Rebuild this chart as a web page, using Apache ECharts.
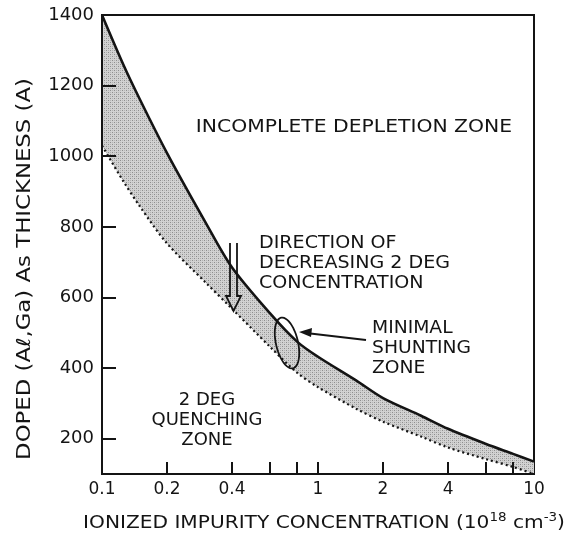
<!DOCTYPE html>
<html><head><meta charset="utf-8">
<script src="https://cdn.jsdelivr.net/npm/echarts@6/dist/echarts.min.js"></script>
<style>html,body{margin:0;padding:0;background:#fff}#c{width:569px;height:533px}</style>
</head><body><div id="c"></div>
<script>
// ---- data ----
const xValues        = [0.1, 0.125, 0.15, 0.2, 0.3, 0.4, 0.6, 0.8, 1, 1.5, 2, 3, 4, 6, 8, 10];
const upperThickness = [1400, 1262, 1160, 1009, 815, 685, 555, 475, 432, 365, 315, 265, 228, 185, 157, 135];
const lowerThickness = [1030, 931, 857, 753, 644, 568, 460, 387, 346, 285, 248, 206, 175, 142, 120, 100];
const xTickValues    = [0.2, 0.4, 0.6, 0.8, 1, 2, 4, 6, 8];
const xLabelValues   = [0.1, 0.2, 0.4, 1, 2, 4, 10];
const yTickValues    = [200, 400, 600, 800, 1000, 1200, 1400];

const FONT = 'DejaVu Sans';
const INK = '#141414';

// stipple pattern for the band
const pc = document.createElement('canvas'); pc.width = 4; pc.height = 4;
const g = pc.getContext('2d');
g.fillStyle = '#d2d2d2'; g.fillRect(0, 0, 4, 4);
g.fillStyle = '#8e8e8e'; g.fillRect(0, 0, 1, 1); g.fillRect(2, 2, 1, 1);
g.fillStyle = '#b4b4b4'; g.fillRect(2, 0, 1, 1); g.fillRect(0, 2, 1, 1);

const upperData = xValues.map((x, i) => [x, upperThickness[i]]);
const lowerData = xValues.map((x, i) => [x, lowerThickness[i]]);

function ellipsePts(cx, cy, rx, ry, rot, n) {
  const pts = [];
  for (let k = 0; k < n; k++) {
    const t = 2 * Math.PI * k / n;
    const ex = rx * Math.cos(t), ey = ry * Math.sin(t);
    pts.push([cx + ex * Math.cos(rot) - ey * Math.sin(rot), cy + ex * Math.sin(rot) + ey * Math.cos(rot)]);
  }
  return pts;
}

const txt = (s, x, y, align, sx) => ({
  type: 'text', x: x, y: y, z: 100, scaleX: sx || 1,
  style: { text: s, fontFamily: FONT, fontSize: 18, fill: INK, align: align || 'left', verticalAlign: 'middle' }
});

const chart = echarts.init(document.getElementById('c'), null, { renderer: 'canvas' });
chart.setOption({
  animation: false,
  backgroundColor: '#fff',
  grid: { left: 102, top: 15, right: 35, bottom: 59, show: true, borderColor: INK, borderWidth: 2, backgroundColor: 'transparent', outerBoundsMode: 'none' },
  xAxis: {
    type: 'log', logBase: 10, min: 0.1, max: 10, z: 10,
    axisLine: { show: true, lineStyle: { color: INK, width: 2 } },
    axisTick: { show: true, inside: true, length: 12, customValues: xTickValues, lineStyle: { color: INK, width: 2 } },
    axisLabel: { customValues: xLabelValues, formatter: v => String(+(+v).toPrecision(3)), fontFamily: FONT, fontSize: 17, color: INK, margin: 7 },
    splitLine: { show: false }, minorTick: { show: false }
  },
  yAxis: {
    type: 'value', min: 100, max: 1400, z: 10,
    axisLine: { show: true, lineStyle: { color: INK, width: 2 } },
    axisTick: { show: true, inside: true, length: 14, customValues: yTickValues, lineStyle: { color: INK, width: 2 } },
    axisLabel: { customValues: yTickValues, formatter: v => String(v), fontFamily: FONT, fontSize: 18, color: INK, margin: 8 },
    splitLine: { show: false }
  },
  series: [
    { type: 'line', name: 'upper', data: upperData, smooth: 0.3, symbol: 'none', z: 2,
      lineStyle: { color: INK, width: 2.6 },
      areaStyle: { color: { image: pc, repeat: 'repeat' }, opacity: 1, origin: 'start' } },
    { type: 'line', name: 'lower', data: lowerData, smooth: 0.3, symbol: 'none', z: 3,
      lineStyle: { color: INK, width: 2.2, type: [2, 3] },
      areaStyle: { color: '#ffffff', opacity: 1, origin: 'start' } }
  ],
  graphic: { elements: [
    { type: 'text', x: 25, y: 269, rotation: Math.PI / 2, scaleX: 1.2, z: 100,
      style: { text: 'DOPED (Aℓ,Ga) As THICKNESS (A)', fontFamily: FONT, fontSize: 19, fill: INK, align: 'center', verticalAlign: 'middle' } },
    { type: 'text', x: 324, y: 523, scaleX: 1.12, z: 100,
      style: { text: 'IONIZED IMPURITY CONCENTRATION (10{s|18} cm{s|-3})', fontFamily: FONT, fontSize: 18, fill: INK, align: 'center', verticalAlign: 'middle', lineHeight: 22,
        rich: { s: { fontFamily: FONT, fontSize: 12, fill: INK, verticalAlign: 'top', lineHeight: 12 } } } },
    txt('INCOMPLETE DEPLETION ZONE', 354, 127, 'center', 1.13),
    txt('DIRECTION OF', 259, 243, 'left', 1.06), txt('DECREASING 2 DEG', 259, 263, 'left', 1.06), txt('CONCENTRATION', 259, 283, 'left', 1.06),
    txt('MINIMAL', 372, 328, 'left', 1.04), txt('SHUNTING', 372, 348, 'left', 1.04), txt('ZONE', 372, 368, 'left', 1.04),
    txt('2 DEG', 207, 400, 'center'), txt('QUENCHING', 207, 420, 'center'), txt('ZONE', 207, 440, 'center'),
    { type: 'polyline', z: 50, shape: { points: [[230, 243], [230, 296], [226, 296], [233.5, 311], [241, 296], [237, 296], [237, 243]] },
      style: { stroke: INK, lineWidth: 1.8, fill: null } },
    { type: 'polygon', z: 50, shape: { points: ellipsePts(287, 343, 11, 26, -0.23, 48) },
      style: { stroke: INK, lineWidth: 1.8, fill: null } },
    { type: 'line', z: 50, shape: { x1: 366, y1: 340, x2: 306, y2: 333 }, style: { stroke: INK, lineWidth: 1.8 } },
    { type: 'polygon', z: 50, shape: { points: [[299, 332], [312, 328], [311, 337]] }, style: { fill: INK } }
  ] }
});
</script></body></html>
